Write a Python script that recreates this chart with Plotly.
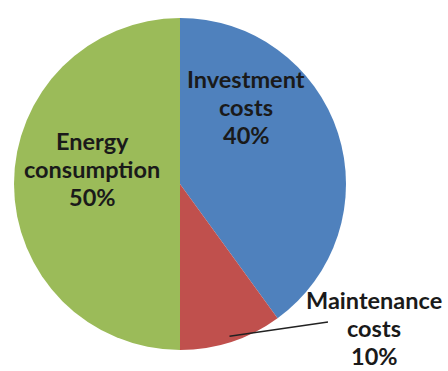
import math
import plotly.graph_objects as go

# Cost breakdown
categories = ["Investment costs", "Maintenance costs", "Energy consumption"]
shares = [40, 10, 50]
label_lines = [["Investment", "costs"], ["Maintenance", "costs"], ["Energy", "consumption"]]
colors = ["#4F81BD", "#C0504D", "#9BBB59"]

W, H = 448, 371
cx, cy, R = 180, 184, 166  # pie centre and radius in pixels

fig = go.Figure(go.Pie(
    labels=categories,
    values=shares,
    sort=False,
    direction="clockwise",
    rotation=0,
    marker=dict(colors=colors, line=dict(width=0)),
    textinfo="none",
    hoverinfo="label+percent",
    showlegend=False,
    domain=dict(x=[(cx - R) / W, (cx + R) / W], y=[1 - (cy + R) / H, 1 - (cy - R) / H]),
))

def px_to_paper(x, y):
    return x / W, 1 - y / H

# label centre positions in pixels (first line)
label_pos = [(246, 79), (374, 300), (92, 141)]
line_h = 28
font = dict(family="Lato, Open Sans, sans-serif", size=23.5, color="#1a1a1a")
total = sum(shares)
annotations = []
for lines, val, (lx, ly) in zip(label_lines, shares, label_pos):
    for i, t in enumerate(lines + [f"{round(100 * val / total)}%"]):
        ax, ay = px_to_paper(lx, ly + i * line_h)
        annotations.append(dict(x=ax, y=ay, xref="paper", yref="paper", text=f"<b>{t}</b>",
                                showarrow=False, font=font, xanchor="center", yanchor="middle"))

# leader line from the middle of the maintenance slice to its label
mid = (shares[0] + shares[1] / 2) / total * 2 * math.pi
sx, sy = cx + 0.965 * R * math.sin(mid), cy - 0.965 * R * math.cos(mid)
x0, y0 = px_to_paper(sx, sy)
x1, y1 = px_to_paper(328, 322)
shapes = [dict(type="line", xref="paper", yref="paper", x0=x0, y0=y0, x1=x1, y1=y1,
               line=dict(color="#222222", width=1.5))]

fig.update_layout(
    width=W, height=H,
    margin=dict(l=0, r=0, t=0, b=0),
    paper_bgcolor="white", plot_bgcolor="white",
    annotations=annotations, shapes=shapes,
)
fig.write_html("out.html")
